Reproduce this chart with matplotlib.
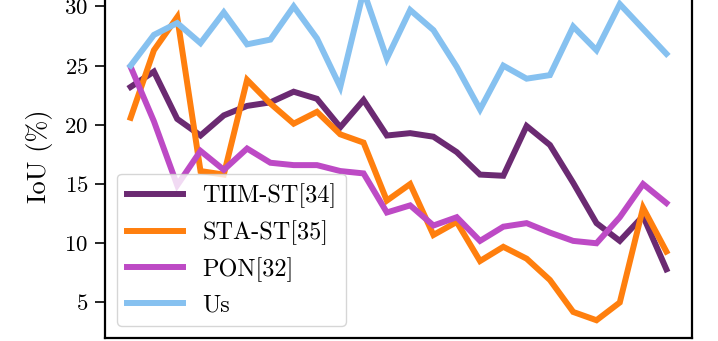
import matplotlib
matplotlib.use("Agg")
import matplotlib.pyplot as plt

plt.rcParams['font.family'] = ['cmr10', 'DejaVu Serif']
plt.rcParams['axes.formatter.use_mathtext'] = True
plt.rcParams['mathtext.fontset'] = 'cm'

labels = ["TIIM-ST[34]", "STA-ST[35]", "PON[32]", "Us"]
colors = ["#6B2A72", "#FF7F0E", "#BD4AC5", "#86C1F0"]

tiim = [23.2, 24.5, 20.5, 19.1, 20.8, 21.6, 21.9, 22.8, 22.2, 19.8, 22.1, 19.1,
        19.3, 19.0, 17.7, 15.8, 15.7, 19.9, 18.3, 15.1, 11.7, 10.2, 12.3, 7.8]
stast = [20.6, 26.3, 29.1, 16.1, 15.8, 23.8, 21.8, 20.1, 21.1, 19.2, 18.5, 13.6,
         15.0, 10.7, 11.8, 8.5, 9.7, 8.7, 6.9, 4.2, 3.5, 5.0, 13.0, 9.3]
pon = [24.9, 20.3, 14.9, 17.8, 16.2, 18.0, 16.8, 16.6, 16.6, 16.1, 15.9, 12.6,
       13.2, 11.5, 12.2, 10.2, 11.4, 11.7, 10.9, 10.2, 10.0, 12.2, 15.0, 13.4]
us = [25.0, 27.6, 28.6, 26.9, 29.5, 26.8, 27.2, 30.0, 27.3, 23.2, 31.3, 25.6,
      29.7, 28.0, 24.9, 21.3, 25.0, 23.9, 24.2, 28.3, 26.3, 30.2, 28.1, 26.0]
series = [tiim, stast, pon, us]
x = list(range(len(us)))

fig = plt.figure(figsize=(7.18, 3.41), dpi=100)
ax = fig.add_axes([105 / 718, 3 / 341, (692 - 105) / 718, 364 / 341])

for vals, lab, col in zip(series, labels, colors):
    ax.plot(x, vals, color=col, lw=4.3, label=lab, solid_joinstyle='miter')

ax.set_xlim(-1.1, 24.1)
ax.set_ylim(2.0, 32.74)
ax.set_xticks([])
ax.set_yticks([5, 10, 15, 20, 25, 30])
ax.tick_params(axis='y', labelsize=16.5, length=7, width=1.2, pad=5)
ax.set_ylabel("IoU (%)", fontsize=19, labelpad=8)
for s in ax.spines.values():
    s.set_linewidth(1.6)

ax.legend(loc='lower left', fontsize=17.5, handlelength=2.3)

fig.savefig("out.png", dpi=100)
